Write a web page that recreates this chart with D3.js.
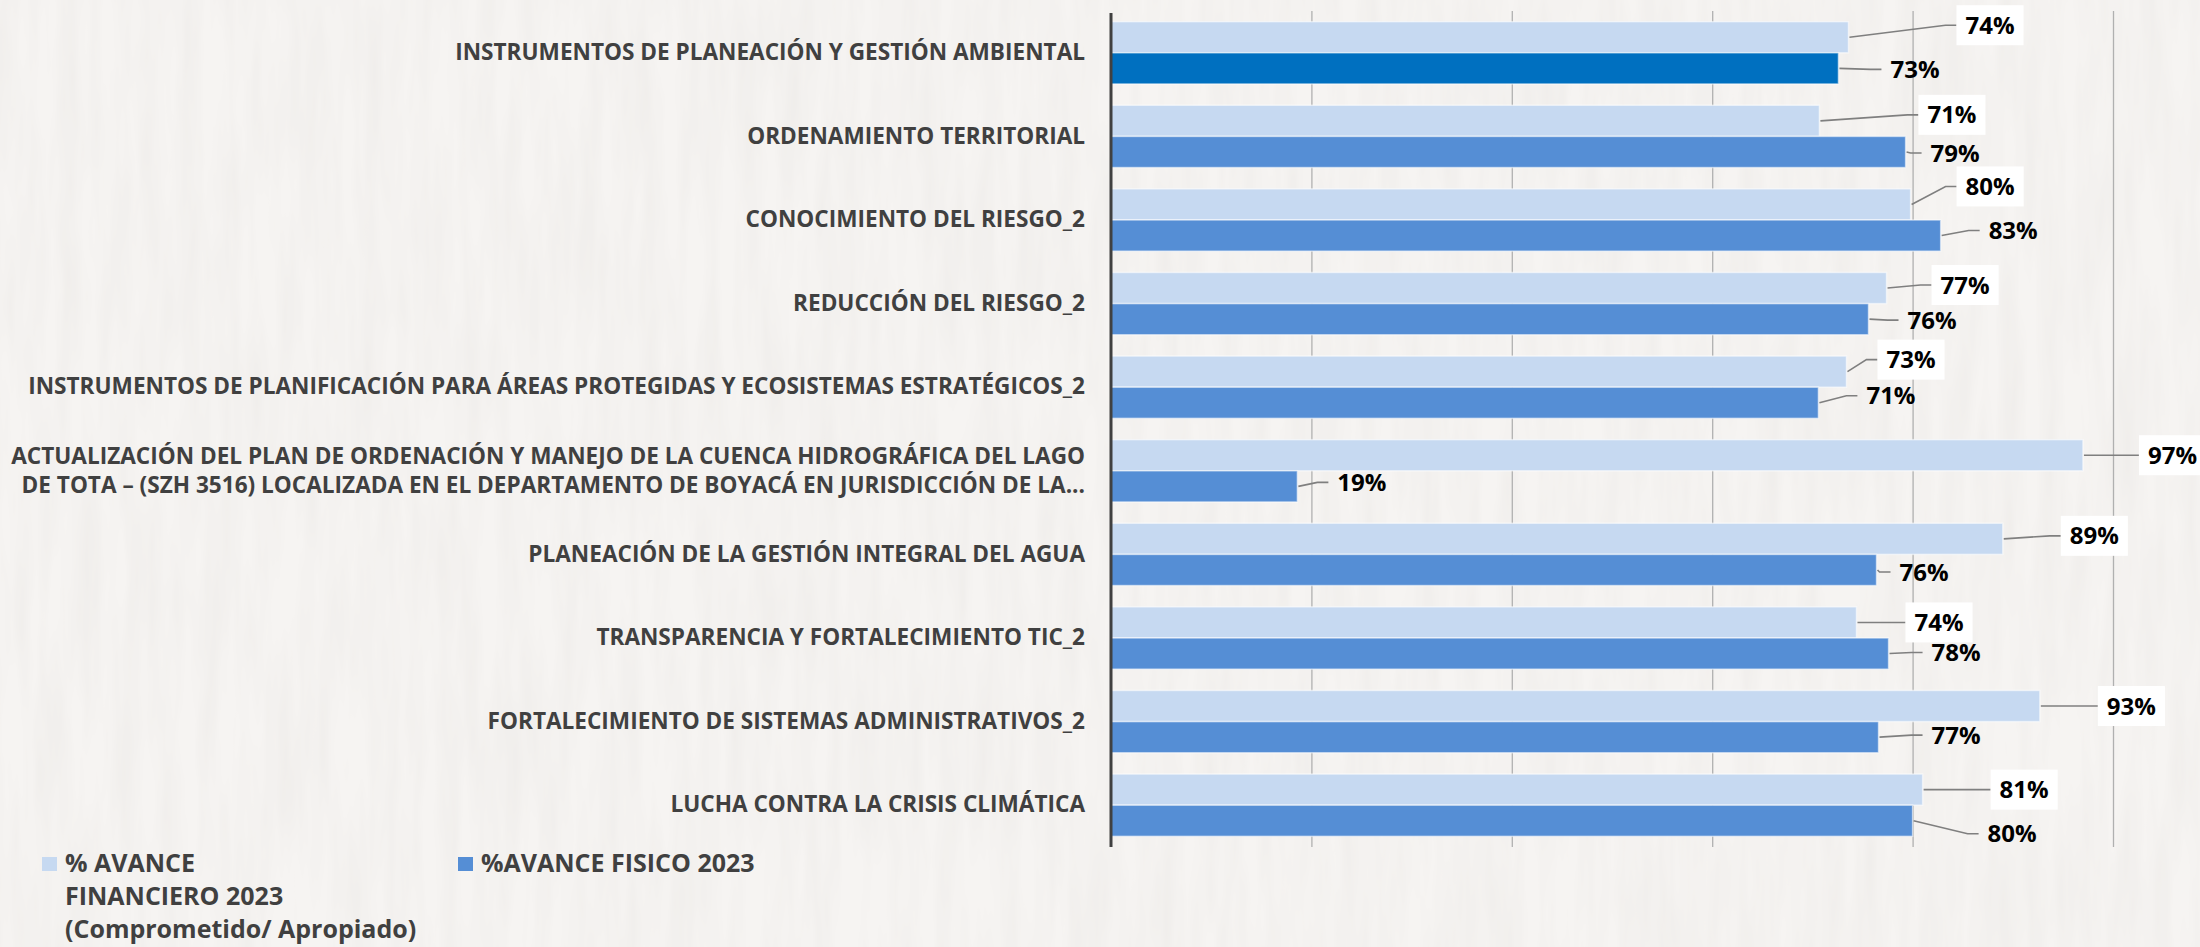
<!DOCTYPE html>
<html lang="es">
<head>
<meta charset="utf-8">
<title>Avance financiero y físico 2023</title>
<script src="https://cdn.jsdelivr.net/npm/d3@7"></script>
<style>
  body { margin: 0; background: #f4f2ef; }
  text { font-family: "Open Sans", "Noto Sans", sans-serif; font-weight: 700; }
</style>
</head>
<body>
<div id="chart"></div>
<script>
// ---- data ----
var categorias = [
  "INSTRUMENTOS DE PLANEACIÓN Y GESTIÓN AMBIENTAL",
  "ORDENAMIENTO TERRITORIAL",
  "CONOCIMIENTO DEL RIESGO_2",
  "REDUCCIÓN DEL RIESGO_2",
  "INSTRUMENTOS DE PLANIFICACIÓN PARA ÁREAS PROTEGIDAS Y ECOSISTEMAS ESTRATÉGICOS_2",
  "ACTUALIZACIÓN DEL PLAN DE ORDENACIÓN Y MANEJO DE LA CUENCA HIDROGRÁFICA DEL LAGO\nDE TOTA – (SZH 3516) LOCALIZADA EN EL DEPARTAMENTO DE BOYACÁ EN JURISDICCIÓN DE LA...",
  "PLANEACIÓN DE LA GESTIÓN INTEGRAL DEL AGUA",
  "TRANSPARENCIA Y FORTALECIMIENTO TIC_2",
  "FORTALECIMIENTO DE SISTEMAS ADMINISTRATIVOS_2",
  "LUCHA CONTRA LA CRISIS CLIMÁTICA"
];
var avanceFinanciero = [0.736, 0.707, 0.798, 0.774, 0.734, 0.970, 0.890, 0.744, 0.927, 0.810];
var avanceFisico     = [0.726, 0.793, 0.828, 0.756, 0.706, 0.186, 0.764, 0.776, 0.766, 0.800];
var series = ["financiero", "fisico"];
var legendLines = [
  ["% AVANCE", "FINANCIERO 2023", "(Comprometido/ Apropiado)"],
  ["%AVANCE FISICO 2023"]
];
var xTicks = [0.2, 0.4, 0.6, 0.8, 1];

// label nudges (px from bar end / bar centre), hand placed like the original
var nudgeFin = [[117, -12], [108, -6], [55, -18], [54, -3], [40, -12], [65, 0], [67, -3], [58, 0], [67, 0], [77, 0]];
var nudgeFis = [[52, 1], [25, 1], [48, -5], [39, 1], [48, -7], [40, -4], [23, 2], [43, -1], [53, -2], [75, 13]];

// ---- setup ----
var w = 2200, h = 947;
var margin = {left: 1111, right: 87, top: 11, bottom: 100};
var width = w - margin.left - margin.right;
var height = h - margin.top - margin.bottom;

var svg = d3.select("#chart").append("svg")
    .attr("width", w)
    .attr("height", h);

// paper background (vertical streaks)
var defs = svg.append("defs");
var f = defs.append("filter").attr("id", "paper")
    .attr("x", 0).attr("y", 0).attr("width", "100%").attr("height", "100%");
f.append("feTurbulence")
    .attr("type", "fractalNoise")
    .attr("baseFrequency", "0.05 0.006")
    .attr("numOctaves", 3)
    .attr("seed", 4);
f.append("feColorMatrix")
    .attr("type", "matrix")
    .attr("values", "0 0 0 0 0.55  0 0 0 0 0.53  0 0 0 0 0.5  0.2 0 0 0 -0.06");

svg.append("rect").attr("width", w).attr("height", h).attr("fill", "#f6f4f2");
svg.append("rect").attr("width", w).attr("height", h).attr("filter", "url(#paper)");

var g = svg.append("g")
    .attr("transform", "translate(" + margin.left + "," + margin.top + ")");

var rows = categorias.map(function(c, i) {
  return {cat: c, i: i, financiero: avanceFinanciero[i], fisico: avanceFisico[i]};
});

var x = d3.scaleLinear().domain([0, 1]).range([0, width]);

var y = d3.scaleBand()
    .domain(categorias)
    .range([0, height])
    .paddingInner(0.255)
    .paddingOuter(0.1275);

var y1 = d3.scaleBand()
    .domain(series)
    .range([0, y.bandwidth()]);

function barColor(s, i) {
  if (s == "financiero") return "#c6d9f1";
  return i == 0 ? "#0070c0" : "#558ed5";
}

// gridlines
var grid = g.append("g")
    .attr("transform", "translate(0," + height + ")")
    .call(d3.axisBottom(x).tickValues(xTicks).tickSize(-height).tickFormat(""));
grid.select(".domain").remove();
grid.selectAll("line").attr("stroke", "#b0b0b0").attr("stroke-width", 1.3);

// bars
var groups = g.selectAll(".grp")
    .data(rows)
    .enter()
    .append("g")
    .attr("class", "grp")
    .attr("transform", function(d) { return "translate(0," + y(d.cat) + ")"; });

groups.selectAll("rect")
    .data(function(d) { return series.map(function(s) { return {s: s, v: d[s], i: d.i}; }); })
    .enter()
    .append("rect")
    .attr("x", 0)
    .attr("y", function(d) { return y1(d.s); })
    .attr("width", function(d) { return x(d.v); })
    .attr("height", y1.bandwidth())
    .attr("fill", function(d) { return barColor(d.s, d.i); })
    .attr("stroke", "rgba(255,255,255,0.55)")
    .attr("stroke-width", 1.5);

// category axis
var yAxis = g.append("g")
    .call(d3.axisLeft(y).tickSize(0).tickPadding(26));
yAxis.select(".domain").remove();
yAxis.selectAll("text")
    .attr("font-size", "22.6px")
    .attr("fill", "#404040")
    .each(function(d) {
      var lines = d.split("\n");
      if (lines.length < 2) return;
      var t = d3.select(this);
      var xx = t.attr("x");
      t.text(null).attr("dy", null);
      lines.forEach(function(l, k) {
        t.append("tspan")
          .attr("x", xx)
          .attr("y", 7.2 + (k - (lines.length - 1) / 2) * 29)
          .text(l);
      });
    });

// vertical axis line
g.append("line")
    .attr("x1", 0).attr("x2", 0)
    .attr("y1", 2).attr("y2", height)
    .attr("stroke", "#404040")
    .attr("stroke-width", 3);

// data labels with leader lines
var fmt = d3.format(".0%");
var labels = [];
rows.forEach(function(d) {
  series.forEach(function(s) {
    var nd = s == "financiero" ? nudgeFin[d.i] : nudgeFis[d.i];
    var bx = x(d[s]);
    var by = y(d.cat) + y1(s) + y1.bandwidth() / 2;
    labels.push({s: s, v: d[s], bx: bx, by: by, tx: bx + nd[0], ty: by + nd[1]});
  });
});

var lab = g.selectAll(".lab")
    .data(labels)
    .enter()
    .append("g")
    .attr("class", "lab");

lab.append("path")
    .attr("d", function(d) {
      return "M" + (d.bx + 1) + "," + d.by + "L" + (d.tx - 20) + "," + d.ty + "L" + (d.tx - 9) + "," + d.ty;
    })
    .attr("fill", "none")
    .attr("stroke", "#7f7f7f")
    .attr("stroke-width", 1.6);

lab.append("text")
    .attr("x", function(d) { return d.tx; })
    .attr("y", function(d) { return d.ty; })
    .attr("dy", "0.36em")
    .attr("font-size", "24px")
    .attr("fill", "#000")
    .text(function(d) { return fmt(d.v); });

lab.filter(function(d) { return d.s == "financiero"; })
    .each(function(d) {
      var el = d3.select(this);
      var bb = el.select("text").node().getBBox();
      el.insert("rect", "text")
        .attr("x", bb.x - 9)
        .attr("y", d.ty - 20)
        .attr("width", bb.width + 18)
        .attr("height", 40)
        .attr("fill", "#fff");
    });

// legend
var legend = svg.append("g");
var legX = [42, 458];
legendLines.forEach(function(lines, k) {
  legend.append("rect")
    .attr("x", legX[k])
    .attr("y", 857)
    .attr("width", 15)
    .attr("height", 14)
    .attr("fill", barColor(series[k], 1));
  var t = legend.append("text")
    .attr("font-size", "25px")
    .attr("fill", "#404040");
  lines.forEach(function(l, j) {
    t.append("tspan")
      .attr("x", legX[k] + 23)
      .attr("y", 872 + j * 33)
      .text(l);
  });
});
</script>
</body>
</html>
